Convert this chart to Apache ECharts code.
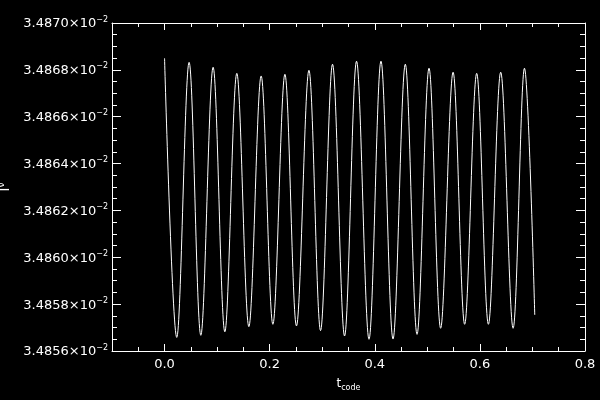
<!DOCTYPE html>
<html>
<head>
<meta charset="utf-8">
<script src="https://cdn.jsdelivr.net/npm/echarts@6/dist/echarts.min.js"></script>
<style>
html,body{margin:0;padding:0;background:#000;}
#chart{width:600px;height:400px;}
</style>
</head>
<body>
<div id="chart"></div>
<script>
// time (t_code) of the peaks / troughs, plus start and end
const tCode = [0.0, 0.0232, 0.0467, 0.0690, 0.0924, 0.1147, 0.1375, 0.1604, 0.1838, 0.2061,
  0.2290, 0.2510, 0.2747, 0.2968, 0.3196, 0.3425, 0.3653, 0.3890, 0.4118, 0.4347,
  0.4581, 0.4804, 0.5032, 0.5253, 0.5490, 0.5710, 0.5939, 0.6162, 0.6396, 0.6632,
  0.6848, 0.7044];
// I^nu values in units of 1e-2
const iNu = [3.486849, 3.485658, 3.486832, 3.485667, 3.486811, 3.485682, 3.486785, 3.485704, 3.486774, 3.485714,
  3.486781, 3.485707, 3.486798, 3.485687, 3.486824, 3.485664, 3.486837, 3.485650, 3.486837, 3.485651,
  3.486824, 3.485671, 3.486807, 3.485697, 3.486790, 3.485714, 3.486785, 3.485714, 3.486790, 3.485697,
  3.486807, 3.485754];
const xMajorTicks = [0.0, 0.2, 0.4, 0.6, 0.8];
const yTickMin = 3.4856, yTickMax = 3.4870, yTickStep = 0.0002;
const xMin = -0.1, xMax = 0.8, xMinorStep = 0.05;

const FONT = 'DejaVu Sans';
const white = '#ffffff';
const points = tCode.map((t, i) => [t, iNu[i]]);

function xAxisDef(pos, major, labels, name) {
  const a = {
    type: 'value', position: pos, min: xMin, max: xMax,
    splitLine: { show: false },
    axisLine: { show: !major, onZero: false, lineStyle: { color: white, width: 1 } },
    axisTick: { show: true, inside: true, length: major ? 7 : 4, lineStyle: { color: white, width: 1 } },
    axisLabel: { show: false }
  };
  if (major) {
    a.axisTick.customValues = xMajorTicks;
  } else {
    a.interval = xMinorStep;
  }
  if (labels) {
    a.axisLabel = {
      show: true, customValues: xMajorTicks, color: white, fontFamily: FONT, fontSize: 13, margin: 7,
      formatter: v => v.toFixed(1)
    };
  }
  if (name) {
    a.name = '{t|t}{s|code}';
    a.nameLocation = 'middle';
    a.nameGap = 21;
    a.nameTextStyle = {
      color: white, fontFamily: FONT,
      rich: {
        t: { fontSize: 12, lineHeight: 14, verticalAlign: 'top', color: white, fontFamily: FONT },
        s: { fontSize: 8, lineHeight: 9, padding: [8, 0, 0, 0], verticalAlign: 'bottom', color: white, fontFamily: FONT }
      }
    };
  }
  return a;
}

function yAxisDef(pos, labels, name) {
  const a = {
    type: 'value', position: pos, min: yTickMin, max: yTickMax, interval: yTickStep,
    splitLine: { show: false },
    axisLine: { show: true, onZero: false, lineStyle: { color: white, width: 1 } },
    axisTick: { show: true, inside: true, length: 9, lineStyle: { color: white, width: 1 } },
    minorTick: { show: true, splitNumber: 4, length: 5, lineStyle: { color: white, width: 1 } },
    axisLabel: { show: false }
  };
  if (labels) {
    a.axisLabel = {
      show: true, margin: 4, showMinLabel: true, showMaxLabel: true,
      fontFamily: FONT, color: white,
      formatter: v => '{a|' + v.toFixed(4) + '×10}{b|−2}',
      rich: {
        a: { fontSize: 13, lineHeight: 15, verticalAlign: 'bottom', color: white, fontFamily: FONT },
        b: { fontSize: 8, lineHeight: 9, padding: [0, 0, 8, 0], verticalAlign: 'top', color: white, fontFamily: FONT }
      }
    };
  }
  if (name) {
    a.name = '{i|I}{n|ν}';
    a.nameLocation = 'middle';
    a.nameGap = 96;
    a.nameTextStyle = {
      color: white, fontFamily: FONT,
      rich: {
        i: { fontSize: 13, lineHeight: 15, verticalAlign: 'bottom', color: white, fontFamily: FONT },
        n: { fontSize: 9, lineHeight: 10, padding: [0, 0, 6, 0], verticalAlign: 'top', color: white, fontFamily: FONT }
      }
    };
  }
  return a;
}

const chart = echarts.init(document.getElementById('chart'), null, { renderer: 'canvas' });
chart.setOption({
  backgroundColor: '#000000',
  animation: false,
  grid: { left: 112, right: 15, top: 23, bottom: 49, containLabel: false, outerBoundsMode: 'none' },
  xAxis: [
    xAxisDef('bottom', false, true, true),
    xAxisDef('bottom', true, false, false),
    xAxisDef('top', false, false, false),
    xAxisDef('top', true, false, false)
  ],
  yAxis: [
    yAxisDef('left', true, true),
    yAxisDef('right', false, false)
  ],
  series: [{
    type: 'line',
    xAxisIndex: 0, yAxisIndex: 0,
    data: points,
    smooth: 0.35,
    showSymbol: false,
    symbol: 'none',
    lineStyle: { color: white, width: 1 }
  }]
});
</script>
</body>
</html>
